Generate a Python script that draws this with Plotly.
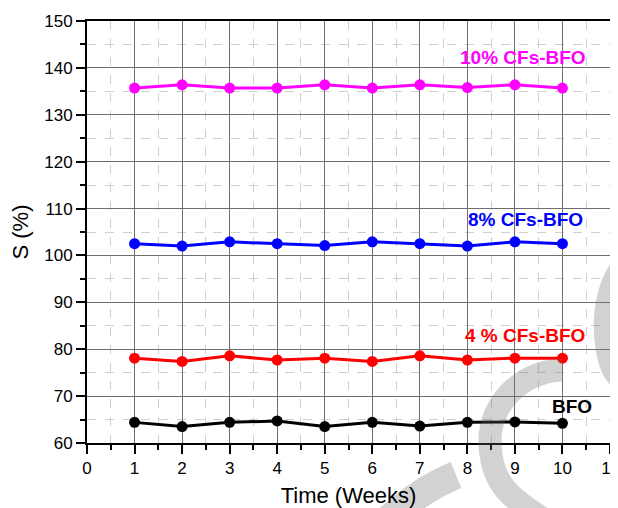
import plotly.graph_objects as go

weeks = [1, 2, 3, 4, 5, 6, 7, 8, 9, 10]
s_10 = [135.7, 136.4, 135.7, 135.7, 136.4, 135.7, 136.4, 135.8, 136.4, 135.7]
s_8 = [102.5, 102.0, 102.9, 102.5, 102.1, 102.9, 102.5, 102.0, 102.9, 102.5]
s_4 = [78.1, 77.4, 78.6, 77.7, 78.1, 77.4, 78.6, 77.7, 78.1, 78.1]
s_bfo = [64.4, 63.5, 64.4, 64.7, 63.5, 64.4, 63.6, 64.4, 64.5, 64.2]

names = ["10% CFs-BFO", "8% CFs-BFO", "4 % CFs-BFO", "BFO"]
values = [s_10, s_8, s_4, s_bfo]
colors = ["#ff00ff", "#0000ff", "#ff0000", "#000000"]
label_x = [9.17, 9.23, 9.21, 10.2]
label_y = [142.3, 107.6, 83.0, 67.7]

FONT = "Liberation Sans, Arial, sans-serif"

fig = go.Figure()
for name, ys, col, lx, ly in zip(names, values, colors, label_x, label_y):
    fig.add_trace(go.Scatter(x=weeks, y=ys, mode="lines+markers", name=name,
                             line=dict(color=col, width=3),
                             marker=dict(color=col, size=11)))
    fig.add_annotation(x=lx, y=ly, text="<b>%s</b>" % name, showarrow=False,
                       font=dict(color=col, size=19, family=FONT))

axis_common = dict(
    showline=True, linecolor="black", linewidth=2, mirror=True,
    ticks="outside", ticklen=9, tickwidth=2, tickcolor="black",
    showgrid=True, gridcolor="#6e6e6e", gridwidth=1, griddash="solid",
    zeroline=False, automargin=False, ticklabeloverflow="allow",
    tickfont=dict(size=17, family=FONT, color="black"),
)
minor_common = dict(ticks="outside", ticklen=5, tickwidth=1.5, tickcolor="black",
                    showgrid=True, gridcolor="#cfcfcf", griddash="dash", gridwidth=1)

fig.update_xaxes(range=[0, 11], dtick=1, **axis_common,
                 minor=dict(dtick=0.5, **minor_common),
                 title=dict(text="Time (Weeks)", standoff=10,
                            font=dict(size=22, family=FONT, color="black")))
fig.update_yaxes(range=[60, 150], dtick=10, **axis_common,
                 minor=dict(dtick=5, **minor_common),
                 title=dict(text="S (%)", standoff=12,
                            font=dict(size=22, family=FONT, color="black")))

# page body has an 8px margin: the figure starts at (8, 8) in the window
OFF = 8
L, R, T, B = 87, 610, 21, 443   # plot area in window pixels
W, H = 618 - OFF, 508 - OFF

def P(px, py):
    return "%.4f,%.4f" % ((px - L) / (R - L), (B - py) / (B - T))

# decorative grey watermark strokes
wm = [
    ("M %s C %s %s %s S %s %s" % (P(562, 370), P(520, 372), P(488, 405), P(490, 445),
                                  P(510, 498), P(548, 522)), 23),
    ("M %s C %s %s %s S %s %s" % (P(625, 258), P(606, 280), P(600, 310), P(603, 340),
                                  P(612, 375), P(628, 392)), 17),
    ("M %s Q %s %s" % (P(456, 475), P(420, 490), P(390, 518)), 28),
]
for pth, wdt in wm:
    fig.add_shape(type="path", path=pth, xref="paper", yref="paper",
                  line=dict(color="rgb(110,110,110)", width=wdt),
                  opacity=0.3, layer="above")

fig.update_layout(width=W, height=H,
                  margin=dict(l=L - OFF, r=W - (R - OFF), t=T - OFF, b=H - (B - OFF)),
                  plot_bgcolor="white", paper_bgcolor="white", showlegend=False)
fig.write_html("out.html")
